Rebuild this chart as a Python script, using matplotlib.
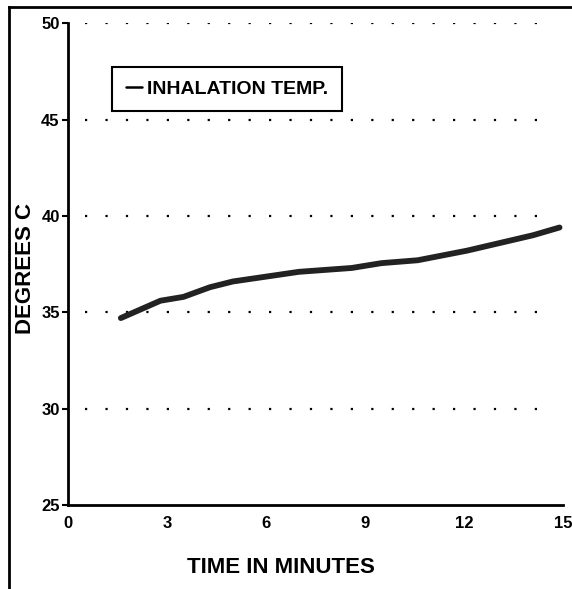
import matplotlib
matplotlib.use("Agg")
import matplotlib.pyplot as plt
from matplotlib.lines import Line2D

# inhalation temperature trace
minutes = [1.6, 2.8, 3.5, 4.3, 5.0, 6.2, 7.0, 8.6, 9.5, 10.6, 12.1, 13.1, 14.1, 14.9]
temp_c = [34.7, 35.6, 35.8, 36.3, 36.6, 36.9, 37.1, 37.3, 37.55, 37.7, 38.2, 38.6, 39.0, 39.4]

xticks = [0, 3, 6, 9, 12, 15]
yticks = [25, 30, 35, 40, 45, 50]
grid_levels = [30, 35, 40, 45, 50]

FONT = ["Liberation Sans", "DejaVu Sans"]
plt.rcParams["font.family"] = FONT
plt.rcParams["font.weight"] = "bold"

fig = plt.figure(figsize=(5.72, 5.89), dpi=100)
ax = fig.add_axes([0.119, 0.1426, 0.865, 0.818])

for lvl in grid_levels:
    ax.plot([0.5, 14.6], [lvl, lvl], color="black", lw=1.6,
            linestyle=(0, (1.0, 8.2)), zorder=1)

ax.plot(minutes, temp_c, color="#222222", lw=4.2, solid_capstyle="round",
        label="INHALATION TEMP.", zorder=3)

ax.set_xlim(0, 15)
ax.set_ylim(25, 50)
ax.set_xticks(xticks)
ax.set_yticks(yticks)
ax.tick_params(axis="x", length=0, pad=8, labelsize=12)
ax.tick_params(axis="y", length=4, width=1.5, direction="out", pad=2, labelsize=12)
for s in ("top", "right"):
    ax.spines[s].set_visible(False)
for s in ("left", "bottom"):
    ax.spines[s].set_linewidth(2)

ax.set_xlabel("TIME IN MINUTES", fontsize=16, fontweight="bold")
ax.set_ylabel("DEGREES C", fontsize=16, fontweight="bold")
ax.xaxis.set_label_coords(0.43, -0.108)
ax.yaxis.set_label_coords(-0.064, 0.49)

leg = ax.legend(loc="upper left", bbox_to_anchor=(0.07, 0.93), fontsize=14,
                handlelength=0.8, handletextpad=0.3, borderpad=0.7,
                fancybox=False, framealpha=1, edgecolor="black")
leg.get_frame().set_linewidth(1.5)
for h in leg.legend_handles:
    h.set_linewidth(1.8)
    h.set_color("black")

# frame pieces of the scanned page
fig.add_artist(Line2D([0.016, 0.016], [0.0, 0.988], color="black", lw=2))
fig.add_artist(Line2D([0.016, 1.0], [0.988, 0.988], color="black", lw=2))

fig.savefig("out.png", dpi=100)
